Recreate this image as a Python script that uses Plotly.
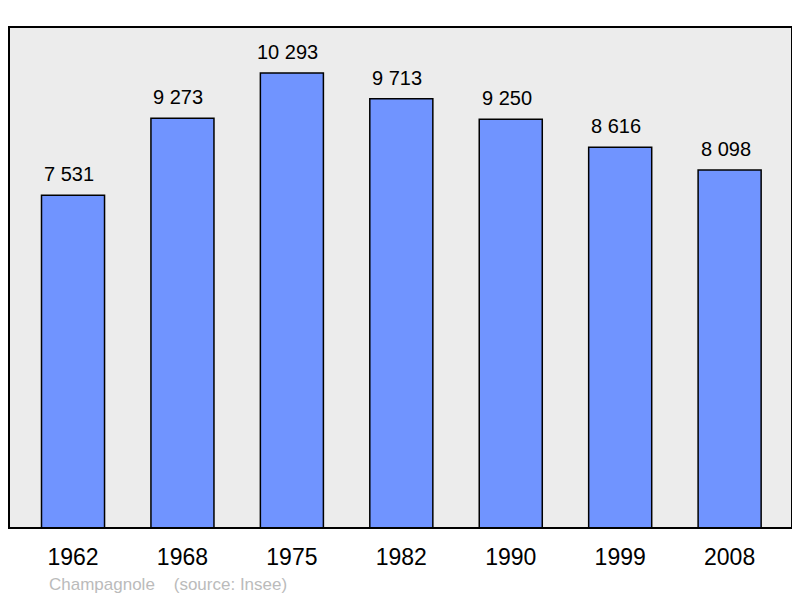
import plotly.graph_objects as go

years = ["1962", "1968", "1975", "1982", "1990", "1999", "2008"]
population = [7531, 9273, 10293, 9713, 9250, 8616, 8098]
labels = ["7 531", "9 273", "10 293", "9 713", "9 250", "8 616", "8 098"]
caption = "Champagnole    (source: Insee)"

fig = go.Figure()
fig.add_trace(go.Bar(
    x=list(range(len(years))), y=population,
    marker=dict(color="#7094ff", line=dict(color="#000000", width=1.5)),
    hoverinfo="skip",
))

for i, (v, t) in enumerate(zip(population, labels)):
    fig.add_annotation(x=i, y=v, text=t, showarrow=False, yanchor="bottom",
                       yshift=8, xshift=-4,
                       font=dict(family="Liberation Sans", size=20, color="#000000"))

fig.add_annotation(xref="paper", yref="paper", x=0.0485, y=-0.112, xanchor="left", yanchor="middle",
                   text=caption.replace("    ", "&nbsp;&nbsp;&nbsp;&nbsp;"), showarrow=False,
                   font=dict(family="Liberation Sans", size=17, color="#bbbbbb"))

fig.add_shape(type="rect", xref="paper", yref="paper", x0=0, y0=0, x1=1, y1=1,
              line=dict(color="#000000", width=2), layer="above")

fig.update_layout(
    width=800, height=598,
    margin=dict(l=1, r=16, t=19, b=78),
    paper_bgcolor="#ffffff", plot_bgcolor="#ececec",
    bargap=0.424, showlegend=False,
    xaxis=dict(range=[-0.585, 6.57], tickmode="array", tickvals=list(range(len(years))),
               ticktext=years, ticks="outside", ticklen=8, tickcolor="rgba(0,0,0,0)",
               showgrid=False, zeroline=False, showline=False,
               tickfont=dict(family="Liberation Sans", size=23, color="#000000")),
    yaxis=dict(range=[0, 11335], showticklabels=False, showgrid=False, zeroline=False,
               showline=False, ticks=""),
)

fig.write_html("out.html")
